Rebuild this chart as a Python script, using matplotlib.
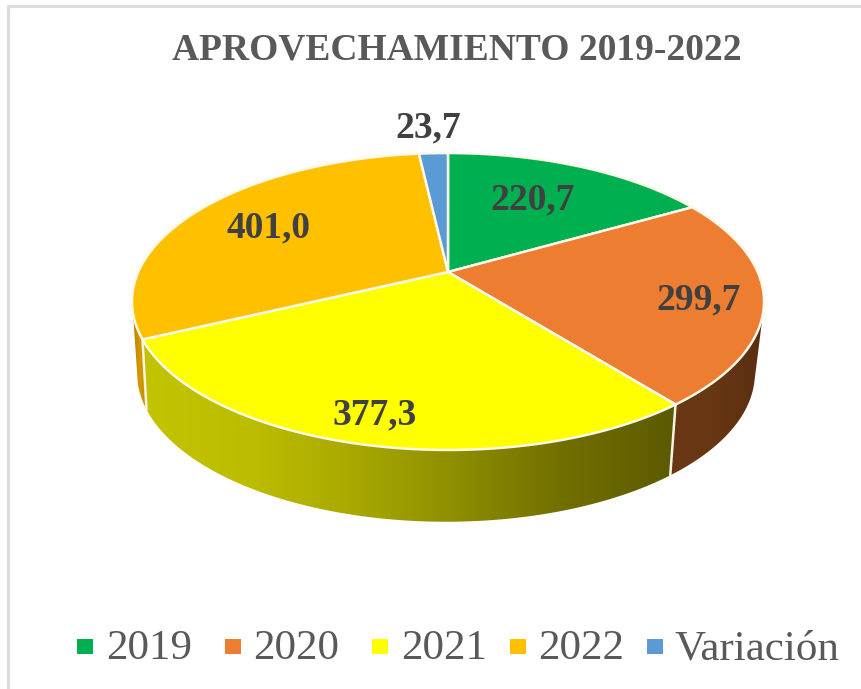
import numpy as np
import matplotlib
matplotlib.use('Agg')
import matplotlib.pyplot as plt
from matplotlib.patches import Polygon, Rectangle
from matplotlib.colors import LinearSegmentedColormap

labels = ['2019', '2020', '2021', '2022', 'Variación']
values = [220.7, 299.7, 377.3, 401.0, 23.7]
value_labels = ['220,7', '299,7', '377,3', '401,0', '23,7']
colors = ['#00b050', '#ed7d31', '#ffff00', '#ffc000', '#5b9bd5']
title = 'APROVECHAMIENTO 2019-2022'

plt.rcParams['font.family'] = ['Liberation Serif', 'DejaVu Serif']

label_pos = [(533, 200), (699, 300), (375, 415), (269, 228), (428, 128)]
legend_marker_x = [77, 225, 372, 510, 647]
legend_text_x = [106, 253, 401, 538, 675]


def top_rim(t):
    # perspective view of the pie's top circle, t in degrees clockwise from 12 o'clock
    u, v = np.sin(np.radians(t)), np.cos(np.radians(t))
    d = 1 + 0.1987 * v
    return 448 + 309.7 * u / d, 272 - 142.6 * v / d


def bottom_rim(t):
    u, v = np.sin(np.radians(t)), np.cos(np.radians(t))
    d = 1 + 0.21 * v
    return 446 + 302 * u / d, 342 - 142 * v / d


def side_poly(t0, t1):
    t = np.linspace(t0, t1, 120)
    x0, y0 = top_rim(t)
    x1, y1 = bottom_rim(t[::-1])
    return np.column_stack([np.r_[x0, x1], np.r_[y0, y1]])


def gradient_side(ax, t0, t1, stops):
    pts = side_poly(t0, t1)
    patch = Polygon(pts, closed=True, facecolor='none', edgecolor='none')
    ax.add_patch(patch)
    xa, xb = pts[:, 0].min(), pts[:, 0].max()
    cmap = LinearSegmentedColormap.from_list('side', stops)
    grad = np.linspace(0, 1, 256).reshape(1, -1)
    im = ax.imshow(grad, cmap=cmap, extent=[xa, xb, pts[:, 1].max(), pts[:, 1].min()],
                   aspect='auto', zorder=1)
    im.set_clip_path(patch)


fig = plt.figure(figsize=(8.62, 6.89), dpi=100, facecolor='white')
ax = fig.add_axes([0, 0, 1, 1])

edges = np.r_[0, np.cumsum(values)] / np.sum(values) * 360

# outer frame of the chart
ax.plot([8, 8, 862], [689, 5.5, 5.5], color='#dcdcdc', lw=2.2, zorder=0)

# side wall, only the part facing the viewer
gradient_side(ax, 106, edges[2], ['#6a3813', '#673613', '#592f10'])
gradient_side(ax, edges[2], edges[3], ['#5c5a00', '#706e00', '#8c8c00', '#a8a800', '#bdbd00', '#c2c400'][::-1])
gradient_side(ax, edges[3], 254, ['#b88000', '#d49a00', '#c08a00'])

# white seam on the slice borders of the side wall
for e in edges[2:4]:
    xa, ya = top_rim(e)
    xb, yb = bottom_rim(e)
    ax.plot([xa, xb], [ya, yb], color='#f8f4e4', lw=1.8, zorder=2)

# top face
for i in range(len(values)):
    t = np.linspace(edges[i], edges[i + 1], 150)
    x, y = top_rim(t)
    ax.add_patch(Polygon(np.column_stack([np.r_[448, x], np.r_[272, y]]), closed=True,
                         facecolor=colors[i], edgecolor='#fdf8e8', lw=1.8, zorder=3,
                         joinstyle='round'))

for txt, (x, y) in zip(value_labels, label_pos):
    ax.text(x, y, txt, fontsize=27, fontweight='bold', color='#404040',
            ha='center', va='center', zorder=5)

ax.text(457, 50, title, fontsize=27, fontweight='bold', color='#595959',
        ha='center', va='center')

for i, lab in enumerate(labels):
    ax.add_patch(Rectangle((legend_marker_x[i], 639), 16, 15, facecolor=colors[i], edgecolor='none'))
    ax.text(legend_text_x[i], 649, lab, fontsize=31, color='#595959', ha='left', va='center')

ax.set_xlim(0, 862)
ax.set_ylim(689, 0)
ax.axis('off')
fig.savefig('out.png', dpi=100)
